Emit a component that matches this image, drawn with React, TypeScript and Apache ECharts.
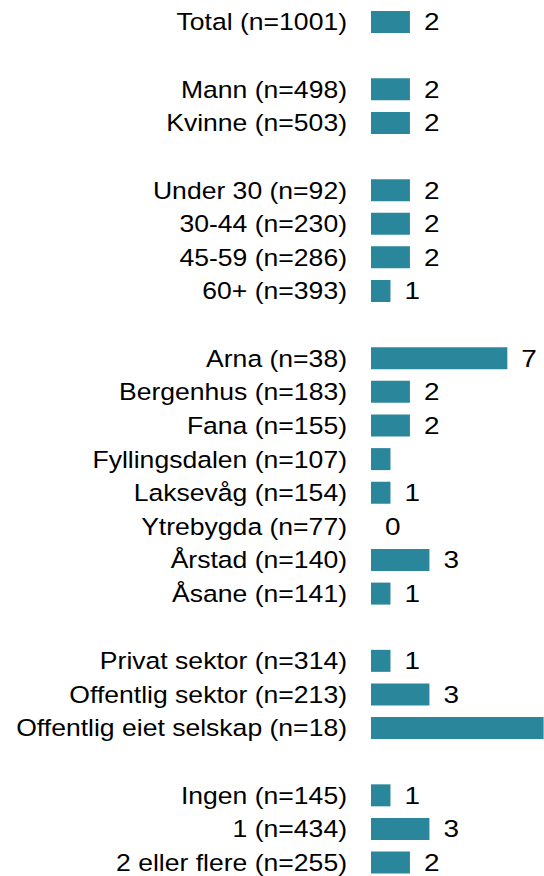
import React, { useEffect, useRef } from "react";
import * as echarts from "echarts";

// Groups of categories (blank rows separate groups)
const groupTotal = ["Total (n=1001)"];
const groupGender = ["Mann (n=498)", "Kvinne (n=503)"];
const groupAge = ["Under 30 (n=92)", "30-44 (n=230)", "45-59 (n=286)", "60+ (n=393)"];
const groupDistrict = [
  "Arna (n=38)",
  "Bergenhus (n=183)",
  "Fana (n=155)",
  "Fyllingsdalen (n=107)",
  "Laksevåg (n=154)",
  "Ytrebygda (n=77)",
  "Årstad (n=140)",
  "Åsane (n=141)",
];
const groupSector = ["Privat sektor (n=314)", "Offentlig sektor (n=213)", "Offentlig eiet selskap (n=18)"];
const groupChildren = ["Ingen (n=145)", "1 (n=434)", "2 eller flere (n=255)"];

const valTotal = [2];
const valGender = [2, 2];
const valAge = [2, 2, 2, 1];
const valDistrict = [7, 2, 2, 1, 1, 0, 3, 1];
const valSector = [1, 3, 11];
const valChildren = [1, 3, 2];

// value labels that are not visible in the reference
const hiddenLabels = ["Fyllingsdalen (n=107)", "Offentlig eiet selskap (n=18)"];

// the reference is stretched horizontally
const STRETCH = 1.14;
const PAGE_W = 544;
const PAGE_H = 882;

export default function App() {
  const ref = useRef<HTMLDivElement>(null);

  useEffect(() => {
    if (!ref.current) return;
    const chart = echarts.init(ref.current, undefined, { renderer: "svg" });

    const groups = [groupTotal, groupGender, groupAge, groupDistrict, groupSector, groupChildren];
    const vals = [valTotal, valGender, valAge, valDistrict, valSector, valChildren];
    const categories: string[] = [];
    const data: any[] = [];
    groups.forEach((g, gi) => {
      if (gi > 0) {
        categories.push(" ".repeat(gi));
        data.push(null);
      }
      g.forEach((c, i) => {
        categories.push(c);
        const v = vals[gi][i];
        if (hiddenLabels.includes(c)) {
          data.push({ value: v, label: { show: false } });
        } else {
          data.push(v);
        }
      });
    });

    const font = "'Liberation Sans', Arial, Helvetica, sans-serif";
    const w = PAGE_W / STRETCH;
    const left = 371 / STRETCH;
    const gridW = w - left;
    const pxPerUnit = 19.5 / STRETCH;
    chart.setOption({
      animation: false,
      grid: { left, top: 5.2, height: 874.2, width: gridW, containLabel: false },
      xAxis: { type: "value", min: 0, max: gridW / pxPerUnit, show: false },
      yAxis: {
        type: "category",
        data: categories,
        inverse: true,
        axisLine: { show: false },
        axisTick: { show: false },
        splitLine: { show: false },
        axisLabel: {
          margin: 24 / STRETCH,
          color: "#000",
          fontSize: 23.3,
          lineHeight: 20,
          fontFamily: font,
          interval: 0,
        },
      },
      series: [
        {
          type: "bar",
          data,
          barWidth: 22,
          itemStyle: { color: "#2a879b" },
          label: {
            show: true,
            position: "right",
            distance: 14 / STRETCH,
            color: "#000",
            fontSize: 24.5,
            lineHeight: 20,
            fontFamily: font,
          },
        },
      ],
    });
    return () => chart.dispose();
  }, []);

  return (
    <div
      ref={ref}
      style={{
        position: "fixed",
        left: 0,
        top: 0,
        width: PAGE_W / STRETCH,
        height: PAGE_H,
        background: "#fff",
        transform: `scaleX(${STRETCH})`,
        transformOrigin: "0 0",
      }}
    />
  );
}
